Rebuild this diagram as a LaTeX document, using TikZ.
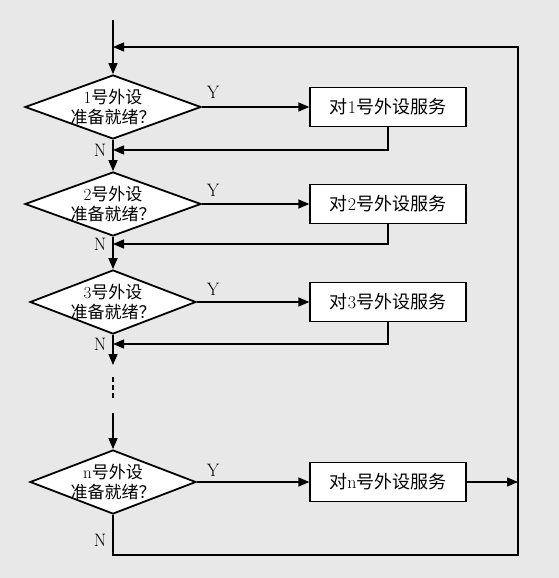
\documentclass[tikz,border=0pt]{standalone}
\usepackage{fontspec}
\newfontfamily\cjk{Noto Sans CJK SC}
\usetikzlibrary{shapes.geometric,arrows.meta}
\definecolor{bggray}{RGB}{232,232,232}
\tikzset{
    decide/.style={diamond,draw,fill=white,line width=1.8pt,minimum width=176pt,minimum height=64pt,inner sep=0pt},
    qtext/.style={align=center,font=\cjk\fontsize{17}{20}\selectfont,inner sep=0pt},
    serve/.style={rectangle,draw,fill=white,line width=1.3pt,minimum width=156pt,minimum height=39pt,inner sep=0pt,font=\cjk\fontsize{18}{20}\selectfont},
    yn/.style={font=\fontsize{18}{18}\selectfont,inner sep=0pt},
    wire/.style={line width=1.3pt},
    arr/.style={wire,-{Triangle[length=11pt,width=9pt]}},
}
\begin{document}
\begin{tikzpicture}[x=1pt,y=-1pt]
    \fill[bggray] (0,0) rectangle (559,578);
    \useasboundingbox (0,0) rectangle (559,578);
    % decisions and services
    \node[decide] (d1) at (113,107) {};
    \node[qtext] (q1) at (d1) {{\rmfamily 1}号外设\\准备就绪？};
    \node[serve] (b1) at (388,107) {对{\rmfamily 1}号外设服务};
    \node[decide] (d2) at (113,204) {};
    \node[qtext] (q2) at (d2) {{\rmfamily 2}号外设\\准备就绪？};
    \node[serve] (b2) at (388,204) {对{\rmfamily 2}号外设服务};
    \node[decide,minimum width=166pt] (d3) at (113,302) {};
    \node[qtext] (q3) at (d3) {{\rmfamily 3}号外设\\准备就绪？};
    \node[serve] (b3) at (388,302) {对{\rmfamily 3}号外设服务};
    \node[decide,minimum width=166pt] (dn) at (113,482) {};
    \node[qtext] (qn) at (dn) {{\rmfamily n}号外设\\准备就绪？};
    \node[serve] (bn) at (388,482) {对{\rmfamily n}号外设服务};
    % labels
    \node[yn] (y1) at (213,92) {Y};
    \node[yn] (y2) at (213,190) {Y};
    \node[yn] (y3) at (213,289) {Y};
    \node[yn] (yn) at (213,470) {Y};
    \node[yn] (n1) at (100,150) {N};
    \node[yn] (n2) at (100,244) {N};
    \node[yn] (n3) at (100,344) {N};
    \node[yn] (nn) at (100,540) {N};
    % points on the main line
    \coordinate (start) at (113,20);
    \coordinate (loop) at (113,47);
    \coordinate (j1) at (113,150);
    \coordinate (j2) at (113,244);
    \coordinate (j3) at (113,344);
    \coordinate (c3) at (113,365);
    \coordinate (dot1) at (113,377);
    \coordinate (dot2) at (113,399);
    \coordinate (cn) at (113,413);
    \coordinate (low) at (113,555);
    \coordinate (back) at (518,482);
    \coordinate (corner) at (518,555);
    % connectors
    \draw[arr] (start) -- (d1.north);
    \draw[arr] (d1.east) -- (b1.west);
    \draw[arr] (b1.south) |- (j1);
    \draw[arr] (d1.south) -- (d2.north);
    \draw[arr] (d2.east) -- (b2.west);
    \draw[arr] (b2.south) |- (j2);
    \draw[arr] (d2.south) -- (d3.north);
    \draw[arr] (d3.east) -- (b3.west);
    \draw[arr] (b3.south) |- (j3);
    \draw[arr] (d3.south) -- (c3);
    \draw[wire,line width=2.5pt,dash pattern=on 5pt off 3pt] (dot1) -- (dot2);
    \draw[arr] (cn) -- (dn.north);
    \draw[arr] (dn.east) -- (bn.west);
    \draw[arr] (bn.east) -- (back);
    \draw[arr] (dn.south) -- (low) -- (corner) |- (loop);
\end{tikzpicture}
\end{document}
